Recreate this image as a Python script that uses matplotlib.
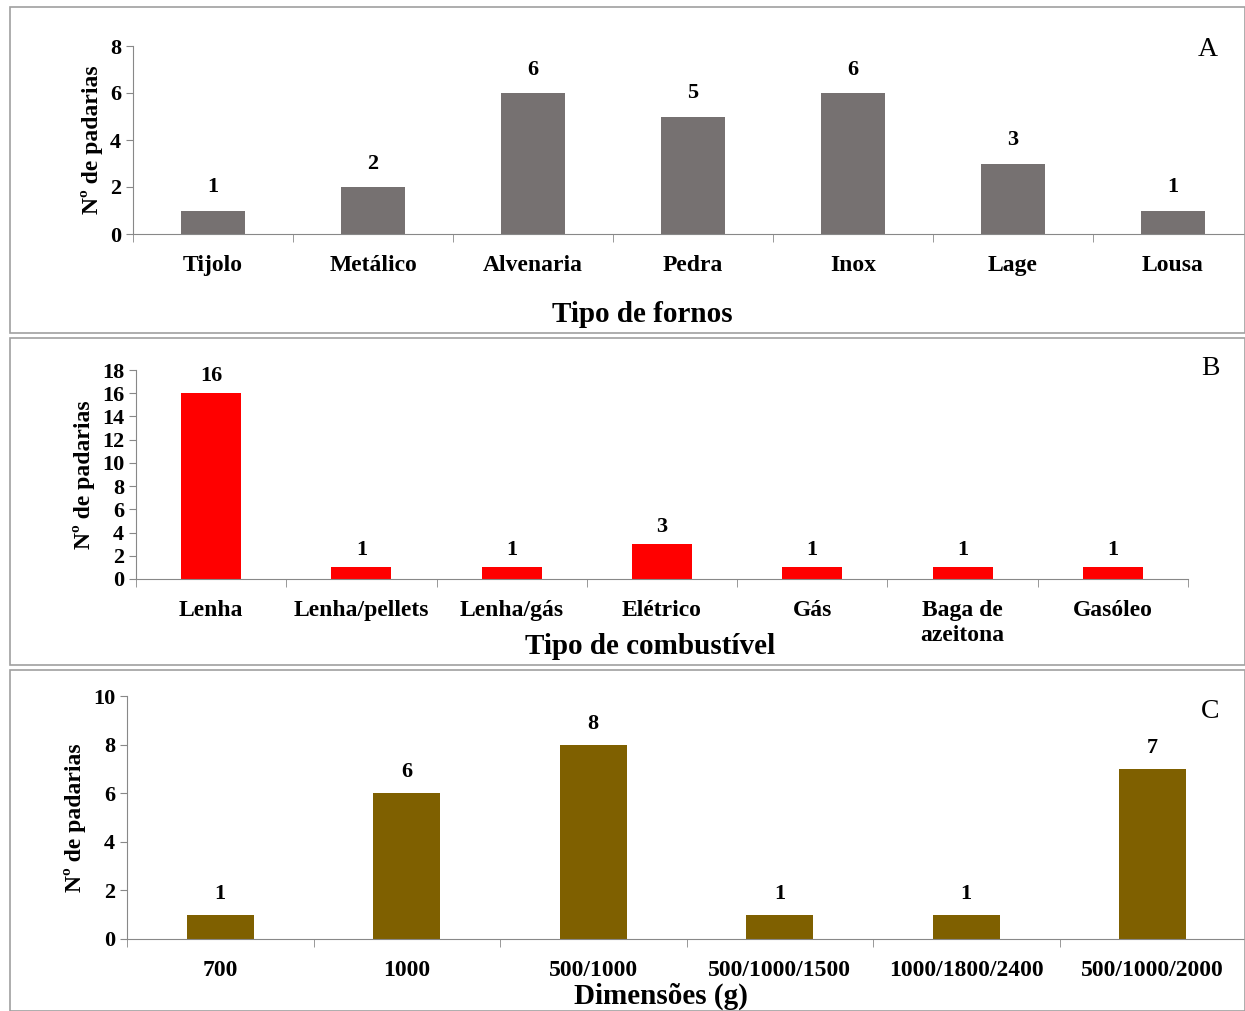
import numpy as np
import matplotlib
matplotlib.use('Agg')
from matplotlib import pyplot as plt
from matplotlib.patches import Rectangle

fornos = ['Tijolo', 'Metálico', 'Alvenaria', 'Pedra', 'Inox', 'Lage', 'Lousa']
fornos_n = [1, 2, 6, 5, 6, 3, 1]
combust = ['Lenha', 'Lenha/pellets', 'Lenha/gás', 'Elétrico', 'Gás', 'Baga de\nazeitona', 'Gasóleo']
combust_n = [16, 1, 1, 3, 1, 1, 1]
dimensoes = ['700', '1000', '500/1000', '500/1000/1500', '1000/1800/2400', '500/1000/2000']
dimensoes_n = [1, 6, 8, 1, 1, 7]

plt.rcParams['font.family'] = ['Liberation Serif', 'DejaVu Serif']
plt.rcParams['font.weight'] = 'bold'

W, H = 1245, 1011
fig = plt.figure(figsize=(W / 100, H / 100), dpi=100)


def px_axes(x0, x1, ytop, ybot):
    return fig.add_axes([x0 / W, 1 - ybot / H, (x1 - x0) / W, (ybot - ytop) / H])


def frame(x0, y0, x1, y1):
    fig.patches.append(Rectangle((x0 / W, 1 - y1 / H), (x1 - x0) / W, (y1 - y0) / H,
                                 transform=fig.transFigure, fill=False,
                                 edgecolor='#a0a0a0', lw=1.2))


def panel(ax, cats, vals, color, width, ymax, ystep, ncat, label_pad, off):
    x = np.arange(len(cats))
    ax.bar(x, vals, width=width, color=color)
    for xi, v in zip(x, vals):
        ax.text(xi, v + ymax * off, str(v), ha='center', va='bottom', fontsize=16, fontweight='bold')
    ax.set_xlim(-0.5, ncat - 0.5)
    ax.set_ylim(0, ymax)
    ax.set_yticks(np.arange(0, ymax + 0.1, ystep))
    ax.set_xticks(x)
    ax.set_xticklabels(cats, fontsize=17, fontweight='bold', va='top', linespacing=1.25)
    ax.set_xticks(np.arange(-0.5, ncat, 1), minor=True)
    ax.tick_params(axis='x', which='major', length=0, pad=label_pad)
    ax.tick_params(axis='x', which='minor', length=6, color='#888888')
    ax.tick_params(axis='y', length=5, color='#888888', labelsize=16)
    for t in ax.get_yticklabels():
        t.set_fontweight('bold')
    for s in ['top', 'right']:
        ax.spines[s].set_visible(False)
    for s in ['left', 'bottom']:
        ax.spines[s].set_color('#888888')
    ax.set_ylabel('Nº de padarias', fontsize=17, fontweight='bold', labelpad=5)
    return ax


frame(10, 7, 1245, 333)
frame(10, 338, 1245, 665)
frame(10, 670, 1245, 1011)

axA = px_axes(133, 1253, 46, 234)
panel(axA, fornos, fornos_n, '#767171', 0.4, 8, 2, 7, 15, 0.07)
fig.text(642 / W, 1 - 314 / H, 'Tipo de fornos', ha='center', va='center', fontsize=21, fontweight='bold')
fig.text(1208 / W, 1 - 49 / H, 'A', ha='center', va='center', fontsize=20, fontweight='normal')

axB = px_axes(136, 1188, 370, 579)
panel(axB, combust, combust_n, '#ff0000', 0.4, 18, 2, 7, 15, 0.035)
fig.text(650 / W, 1 - 647 / H, 'Tipo de combustível', ha='center', va='center', fontsize=21, fontweight='bold')
fig.text(1210 / W, 1 - 368 / H, 'B', ha='center', va='center', fontsize=20, fontweight='normal')

axC = px_axes(127, 1246, 696, 939)
panel(axC, dimensoes, dimensoes_n, '#7f6000', 0.36, 10, 2, 6, 15, 0.045)
fig.text(661 / W, 1 - 996 / H, 'Dimensões (g)', ha='center', va='center', fontsize=21, fontweight='bold')
fig.text(1210 / W, 1 - 711 / H, 'C', ha='center', va='center', fontsize=20, fontweight='normal')

fig.savefig('out.png', dpi=100)
